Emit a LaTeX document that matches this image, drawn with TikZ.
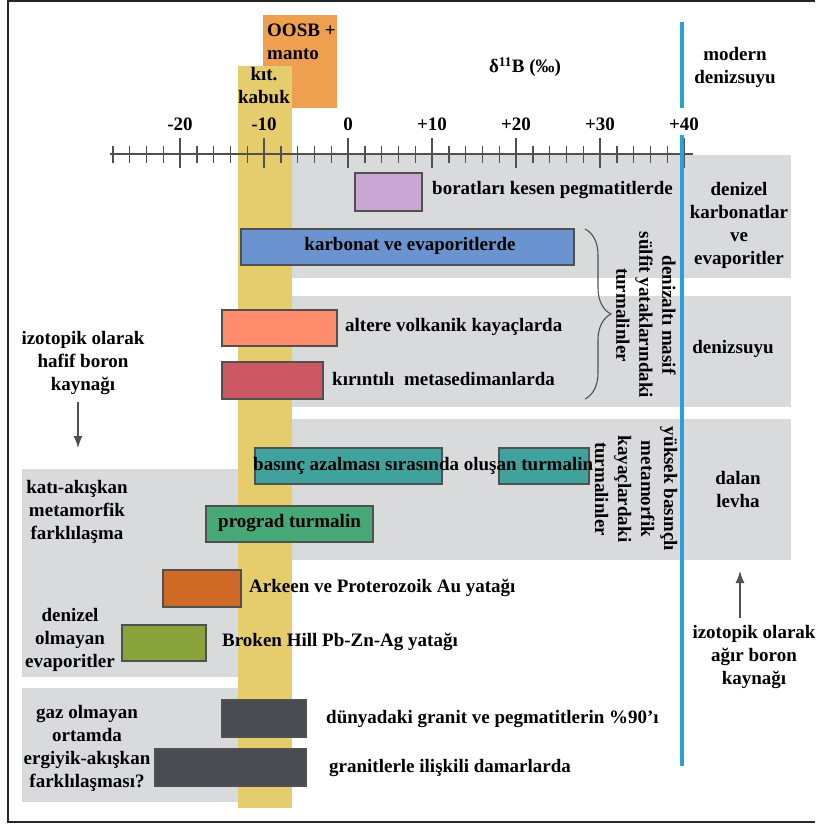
\documentclass[tikz,border=0pt]{standalone}
\usepackage{fontspec}
\setmainfont{Liberation Serif}
\usetikzlibrary{arrows.meta,decorations.pathreplacing}
\definecolor{panelgray}{HTML}{D9DADC}
\definecolor{crustyellow}{HTML}{E5CD6E}
\definecolor{mantleorange}{HTML}{EEA050}
\definecolor{seablue}{HTML}{2BA0D7}
\definecolor{barpurple}{HTML}{C9A6D3}
\definecolor{barblue}{HTML}{6A93CF}
\definecolor{barsalmon}{HTML}{FF8C6C}
\definecolor{barred}{HTML}{CB5863}
\definecolor{barteal}{HTML}{40A29C}
\definecolor{bargreen}{HTML}{46A877}
\definecolor{barorange}{HTML}{CF6A26}
\definecolor{barolive}{HTML}{88A23C}
\definecolor{bardark}{HTML}{4A4B50}
\definecolor{inkgray}{HTML}{505050}
\begin{document}
\begin{tikzpicture}[x=1pt,y=-1pt,
  txt/.style={font=\fontsize{19}{23}\selectfont\bfseries, inner sep=0pt, align=center, text=black},
  lbl/.style={txt, anchor=west, text height=13pt, text depth=4pt},
  panel/.style={fill=panelgray, draw=none},
  bar/.style={draw=inkgray, line width=1.3pt},
  axisline/.style={draw=inkgray, line width=1.4pt},
  srcarrow/.style={draw=inkgray, line width=1.3pt, -{Latex[length=12pt,width=9pt]}},
  vtxt/.style={txt, rotate=-90}
]
\useasboundingbox (0,0) rectangle (815,828);
% frame
\draw[line width=1.6pt, black!85] (815,1) -- (8,1) -- (8,822) -- (815,822);

% grey panels
\path[panel] (291,155) rectangle (791,278);
\path[panel] (291,296) rectangle (791,407);
\path[panel] (291,419) rectangle (791,560);
\path[panel] (22,469) rectangle (245,677);
\path[panel] (22,688) rectangle (245,802);

% OOSB + manto box and continental crust band
\path[fill=mantleorange] (263,15) rectangle (337,108);
\node[txt, align=left, anchor=north west] (oosb) at (267,23.5) {OOSB +\\manto};
\path[fill=crustyellow] (238,66) rectangle (292,808);
\node[txt, anchor=north] (kabuk) at (264,67.5) {kıt.\\kabuk};

% axis
\draw[axisline] (110,154) -- (693,154);
\foreach \v in {-28,-26,...,40}{
  \pgfmathsetmacro{\xx}{348+8.4*\v}
  \draw[axisline] (\xx,146) -- (\xx,163);
}
\foreach \v/\t in {-20/-20,-10/-10,0/0,10/+10,20/+20,30/+30,40/+40}{
  \pgfmathsetmacro{\xx}{348+8.4*\v}
  \draw[axisline] (\xx,138) -- (\xx,168);
  \node[txt, anchor=base] (ax\v) at (\xx,130) {\t};
}
\node[txt] (delta) at (525,67) {δ\textsuperscript{11}B (‰)};

% modern seawater line
\draw[seablue, line width=4pt] (682,22) -- (682,108);
\draw[seablue, line width=4pt] (682,135) -- (682,766);
\node[txt] (modern) at (735,67) {modern\\denizsuyu};

% bars
\path[bar, fill=barpurple] (355,173) rectangle (422,211);
\node[lbl] (borat) at (432,190) {boratları kesen pegmatitlerde};

\path[bar, fill=barblue] (241,229) rectangle (574,265);
\node[txt] (karb) at (410,246) {karbonat ve evaporitlerde};

\path[bar, fill=barsalmon] (222,310) rectangle (337,346);
\node[lbl] (altere) at (345,327) {altere volkanik kayaçlarda};

\path[bar, fill=barred] (222,362) rectangle (323,399);
\node[lbl] (kirinti) at (332,381) {kırıntılı\ \ metasedimanlarda};

\path[bar, fill=barteal] (255,448) rectangle (442,484);
\path[bar, fill=barteal] (499,448) rectangle (589,484);
\node[lbl] (basinc) at (253,466) {basınç azalması sırasında oluşan turmalin};

\path[bar, fill=bargreen] (206,506) rectangle (373,542);
\node[lbl] (prograd) at (218,523) {prograd turmalin};

\path[bar, fill=barorange] (163,570) rectangle (241,607);
\node[lbl] (arkeen) at (249,588) {Arkeen ve Proterozoik Au yatağı};

\path[bar, fill=barolive] (122,625) rectangle (206,661);
\node[lbl] (broken) at (222,642) {Broken Hill Pb-Zn-Ag yatağı};

\path[bar, fill=bardark] (222,700) rectangle (306,737);
\node[lbl] (dunya) at (326,719) {dünyadaki granit ve pegmatitlerin \%90’ı};

\path[bar, fill=bardark] (155,749) rectangle (306,786);
\node[lbl] (granit) at (329,768) {granitlerle ilişkili damarlarda};

% brace and rotated labels
\coordinate (brtop) at (585,229);
\coordinate (brbot) at (585,399);
\draw[decorate, decoration={brace, amplitude=26pt}, draw=inkgray, line width=1.1pt] (brtop) -- (brbot);
\node[vtxt] (denizalti) at (646,315) {denizaltı masif\\sülfit yataklarındaki\\turmalinler};
\node[vtxt] (yuksek) at (636,489) {yüksek basınçlı\\metamorfik\\kayaçlardaki\\turmalinler};

% right-hand labels
\node[txt] (denkarb) at (739,225) {denizel\\karbonatlar\\ve\\evaporitler};
\node[txt] (denizsuyu) at (733,349) {denizsuyu};
\node[txt] (dalan) at (738,489) {dalan\\levha};
\node[txt] (agir) at (754,657) {izotopik olarak\\ağır boron\\kaynağı};
\coordinate (ra1) at (740,618);
\coordinate (ra2) at (740,571);
\draw[srcarrow] (ra1) -- (ra2);

% left-hand labels
\node[txt] (hafif) at (83,363) {izotopik olarak\\hafif boron\\kaynağı};
\coordinate (la1) at (78,402);
\coordinate (la2) at (78,448);
\draw[srcarrow] (la1) -- (la2);
\node[txt] (kati) at (77,512) {katı-akışkan\\metamorfik\\farklılaşma};
\node[txt] (denol) at (70,640) {denizel\\olmayan\\evaporitler};
\node[txt] (gaz) at (87,748) {gaz olmayan\\ortamda\\ergiyik-akışkan\\farklılaşması?};
\end{tikzpicture}
\end{document}
